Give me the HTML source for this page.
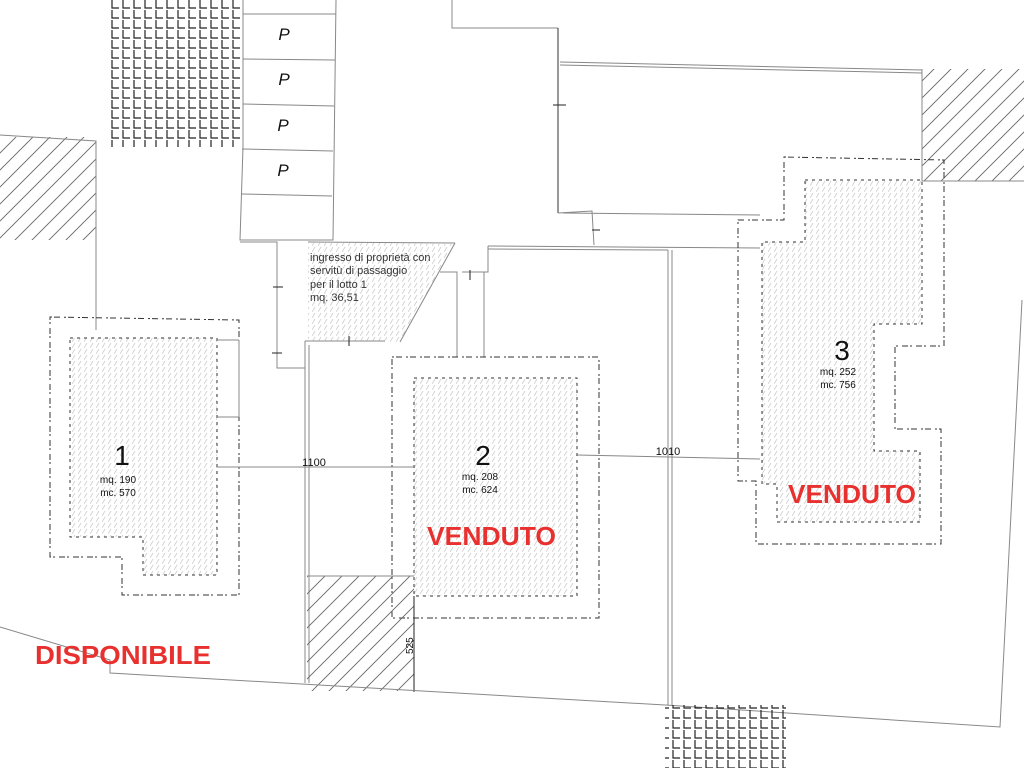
<!DOCTYPE html>
<html><head><meta charset="utf-8"><style>html,body{margin:0;padding:0;background:#fff}svg{display:block}</style></head><body>
<svg width="1024" height="768" viewBox="0 0 1024 768" xmlns="http://www.w3.org/2000/svg" font-family="Liberation Sans, sans-serif">
<defs>
<pattern id="diag" width="17" height="17" patternUnits="userSpaceOnUse"><path d="M-2,19 L19,-2 M-2,2 L2,-2 M15,19 L19,15" stroke="#666" stroke-width="0.9"/></pattern>
<pattern id="fine" width="6" height="6" patternUnits="userSpaceOnUse"><path d="M0,6 L3,1" stroke="#ccc" stroke-width="0.8"/></pattern>
<pattern id="grid" width="11" height="10" patternUnits="userSpaceOnUse"><path d="M2,0 L2,8 L9,8" stroke="#222" stroke-width="1.2" fill="none"/></pattern>
</defs>
<g stroke="#888" stroke-width="1" fill="none">
<rect x="108" y="0" width="135" height="147" fill="url(#grid)" stroke="none"/>
<rect x="0" y="137" width="96" height="103" fill="url(#diag)" stroke="none"/>
<path d="M0,135 L96,141 L96,330"/>
<path d="M243,0 L243,147 L240,240 L333,240 L336,0"/>
<path d="M243,14 L336,14 M243,59 L335,60 M243,104 L334,106 M242,149 L333,151 M241,194 L332,196"/>
<path d="M452,0 L452,28 L558,28"/>
<path d="M558,28 L558,213" stroke="#333"/>
<path d="M560,62 L922,70 M560,65 L922,73"/>
<rect x="922" y="69" width="102" height="112" fill="url(#diag)" stroke="none"/>
<path d="M922,69 L922,181 L1024,181"/>
<path d="M558,213 L592,211 L594,245 M563,213 L760,215"/>
<path d="M240,242 L277,242 L277,368 L305,368 M308,242 L455,243 M488,246 L760,248 M488,249 L668,250"/>
<polygon points="308,243 455,243 400,342 308,341" fill="url(#fine)" stroke="none"/>
<path d="M455,243 L400,342 M440,272 L457,272 L457,357 M484,272 L484,357 M488,246 L488,272 L462,272"/>
<path d="M305,341 L385,341 M305,341 L305,683 M309,345 L309,683"/>
<path d="M668,250 L668,705 M672,250 L672,705"/>
<path d="M273,287 L283,287 M272,353 L282,353 M349,336 L349,346 M470,270 L470,280 M553,105 L566,105 M592,230 L600,230" stroke="#222"/>
<polygon points="70,338 217,338 217,575 143,575 143,537 70,537" fill="url(#fine)" stroke="#333" stroke-dasharray="3,4"/>
<polygon points="50,317 239,320 239,595 122,595 122,557 50,557" stroke="#333" stroke-dasharray="2,2,6,4"/>
<path d="M217,340 L239,340 M217,417 L239,417 M239,340 L239,417"/>
<rect x="414" y="378" width="163" height="218" fill="url(#fine)" stroke="#333" stroke-dasharray="3,4"/>
<rect x="392" y="357" width="207" height="261" stroke="#333" stroke-dasharray="2,2,6,4"/>
<polygon points="805,180 922,180 922,324 874,324 874,451 920,451 920,522 777,522 777,484 762,484 762,242 805,242" fill="url(#fine)" stroke="#333" stroke-dasharray="3,4"/>
<polygon points="784,157 944,160 944,346 895,346 895,429 941,429 941,544 756,544 756,481 738,481 738,220 784,220" stroke="#333" stroke-dasharray="2,2,6,4"/>
<path d="M217,467 L414,467 M577,455 L760,459"/>
<rect x="307" y="576" width="107" height="115" fill="url(#diag)" stroke="none"/>
<path d="M307,576 L414,576"/>
<path d="M414,596 L414,692" stroke="#222"/>
<path d="M0,627 Q60,645 110,660 L110,673 L665,705 L1000,727 L1022,300"/>
<rect x="665" y="705" width="121" height="63" fill="url(#grid)" stroke="none"/>
</g>
<g fill="#111">
<text x="284" y="40" font-size="17" font-style="italic" text-anchor="middle">P</text>
<text x="284" y="85" font-size="17" font-style="italic" text-anchor="middle">P</text>
<text x="283" y="131" font-size="17" font-style="italic" text-anchor="middle">P</text>
<text x="283" y="176" font-size="17" font-style="italic" text-anchor="middle">P</text>
<g font-size="11" fill="#333"><text x="310" y="261">ingresso di proprietà con</text><text x="310" y="274">servitù di passaggio</text><text x="310" y="288">per il lotto 1</text><text x="310" y="301">mq. 36,51</text></g>
<text x="122" y="465" font-size="28" text-anchor="middle">1</text>
<g font-size="10" text-anchor="middle"><text x="118" y="483">mq. 190</text><text x="118" y="496">mc. 570</text></g>
<text x="483" y="465" font-size="28" text-anchor="middle">2</text>
<g font-size="10" text-anchor="middle"><text x="480" y="480">mq. 208</text><text x="480" y="493">mc. 624</text></g>
<text x="842" y="360" font-size="28" text-anchor="middle">3</text>
<g font-size="10" text-anchor="middle"><text x="838" y="375">mq. 252</text><text x="838" y="388">mc. 756</text></g>
<text x="314" y="466" font-size="11" text-anchor="middle">1100</text>
<text x="668" y="455" font-size="11" text-anchor="middle">1010</text>
<text x="0" y="0" font-size="10" transform="translate(413,654) rotate(-90)">525</text>
</g>
<g fill="#e8312e" font-weight="bold" font-size="26">
<text x="427" y="545" textLength="129" lengthAdjust="spacingAndGlyphs">VENDUTO</text>
<text x="788" y="503" textLength="128" lengthAdjust="spacingAndGlyphs">VENDUTO</text>
<text x="35" y="664" textLength="176" lengthAdjust="spacingAndGlyphs">DISPONIBILE</text>
</g>
</svg>
</body></html>
